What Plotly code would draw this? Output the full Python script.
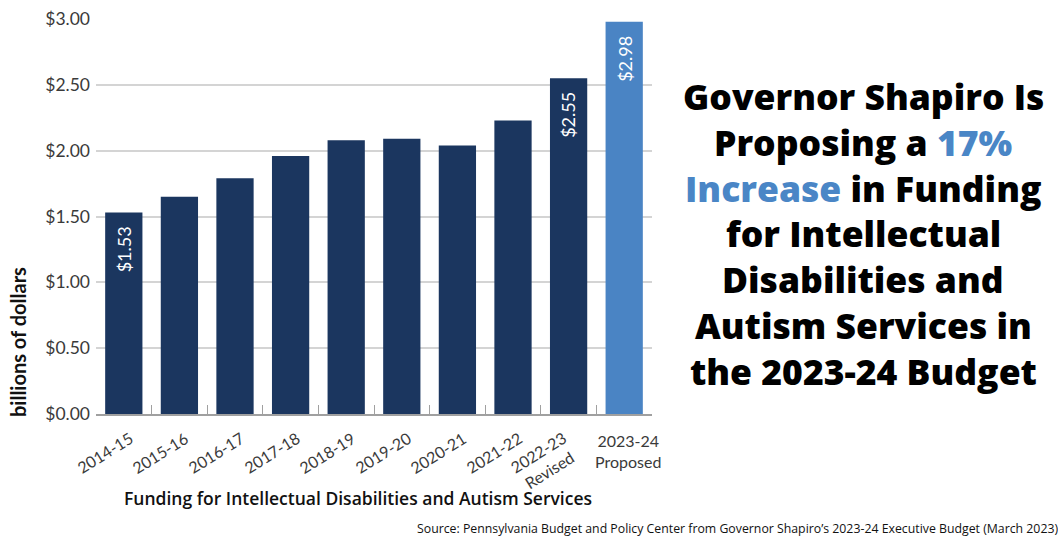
import plotly.graph_objects as go

categories = ["2014-15", "2015-16", "2016-17", "2017-18", "2018-19",
              "2019-20", "2020-21", "2021-22", "2022-23", "2023-24"]
tick_labels = ["2014-15", "2015-16", "2016-17", "2017-18", "2018-19",
               "2019-20", "2020-21", "2021-22", "2022-23<br>Revised",
               "2023-24<br>Proposed"]
values = [1.53, 1.65, 1.79, 1.96, 2.08, 2.09, 2.04, 2.23, 2.55, 2.98]
labeled = ["2014-15", "2022-23", "2023-24"]
y_ticks = [0, 0.5, 1.0, 1.5, 2.0, 2.5, 3.0]
headline_lines = [
    "Governor Shapiro Is",
    "Proposing a <span style='color:#4a86c6'>17%</span>",
    "<span style='color:#4a86c6'>Increase</span> in Funding",
    "for Intellectual",
    "Disabilities and",
    "Autism Services in",
    "the 2023-24 Budget",
]

DARK = "#1b365f"
LIGHT = "#4a84c4"
bar_colors = [LIGHT if c == categories[-1] else DARK for c in categories]

# plot area in pixels
W, H = 1058, 540
L, R, T, B = 96, 406, 19, 126
PW, PH = W - L - R, H - T - B


def px_x(x):
    return (x - L) / PW


def px_y(y):
    return (H - B - y) / PH


fig = go.Figure()
fig.add_trace(go.Bar(x=categories, y=values, marker_color=bar_colors,
                     marker_line_width=0, hoverinfo="skip"))

annotations = []
# value labels inside bars
for c, v in zip(categories, values):
    if c in labeled:
        annotations.append(dict(
            x=c, y=v, xref="x", yref="y", text=f"${v:.2f}", showarrow=False,
            textangle=-90, xanchor="center", yanchor="top", yshift=-12,
            font=dict(family="Lato", size=18, color="white")))

# category labels
for i, (c, t) in enumerate(zip(categories, tick_labels)):
    if i == len(categories) - 1:
        annotations.append(dict(
            x=c, y=0, xref="x", yref="paper", text=t, showarrow=False,
            xanchor="center", yanchor="top", yshift=-15, xshift=4,
            align="center",
            font=dict(family="Lato", size=16, color="#3a3a3a")))
    else:
        annotations.append(dict(
            x=c, y=0, xref="x", yref="paper", text=t, showarrow=False,
            textangle=-32, xanchor="right", yanchor="top",
            xshift=15, yshift=-11, align="center",
            font=dict(family="Lato", size=16, color="#3a3a3a")))

# y axis title
annotations.append(dict(
    x=px_x(18), y=px_y(342), xref="paper", yref="paper", text="billions of dollars",
    textangle=-90, showarrow=False, xanchor="center", yanchor="middle",
    font=dict(family="Lato", size=20, color="#111111", weight="bold")))

# x axis title
annotations.append(dict(
    x=px_x(358), y=px_y(498), xref="paper", yref="paper",
    text="Funding for Intellectual Disabilities and Autism Services",
    showarrow=False, xanchor="center", yanchor="middle",
    font=dict(family="Open Sans", size=17.5, color="#111111", weight=600)))

# source
annotations.append(dict(
    x=px_x(1060), y=px_y(528), xref="paper", yref="paper",
    text="Source: Pennsylvania Budget and Policy Center from Governor Shapiro\u2019s 2023-24 Executive Budget (March 2023)",
    showarrow=False, xanchor="right", yanchor="middle",
    font=dict(family="Open Sans", size=12.3, color="#111111")))

# headline, one annotation per line
for i, line in enumerate(headline_lines):
    annotations.append(dict(
        x=px_x(863), y=px_y(96 + 45.8 * i), xref="paper", yref="paper",
        text=line, showarrow=False, xanchor="center", yanchor="middle",
        font=dict(family="Open Sans", size=35.5, color="#000000", weight=800)))

fig.update_layout(
    width=W, height=H,
    margin=dict(l=L, r=R, t=T, b=B, autoexpand=False),
    paper_bgcolor="white", plot_bgcolor="white",
    bargap=0.33, showlegend=False,
    annotations=annotations,
    xaxis=dict(showticklabels=False, showline=True, linecolor="#a0a0a0",
               linewidth=1.5, ticks="inside", tickson="boundaries",
               ticklen=9, tickcolor="#a0a0a0", tickwidth=1.2,
               showgrid=False, range=[-0.5, len(categories) - 0.5],
               autorange=False),
    yaxis=dict(range=[0, 3.0], autorange=False, tickvals=y_ticks,
               tickformat="$.2f", ticklabelstandoff=5,
               showgrid=True, gridcolor="#d4d4d4", gridwidth=1.5,
               zeroline=False, showline=False, ticks="",
               tickfont=dict(family="Lato", size=17.5, color="#3a3a3a")),
)

fig.write_html("out.html")
